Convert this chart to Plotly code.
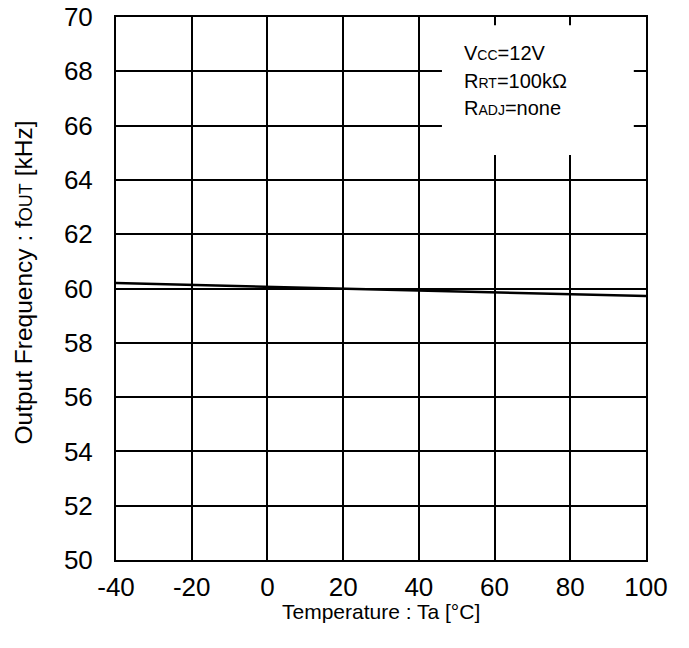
import plotly.graph_objects as go

temperature = [-40, -20, 0, 20, 40, 60, 80, 100]
frequency_khz = [60.20, 60.13, 60.06, 60.00, 59.93, 59.86, 59.79, 59.72]

x_ticks = [-40, -20, 0, 20, 40, 60, 80, 100]
y_ticks = [50, 52, 54, 56, 58, 60, 62, 64, 66, 68, 70]

conditions = [
    'V<span style="font-size:14px">CC</span>=12V',
    'R<span style="font-size:14px">RT</span>=100kΩ',
    'R<span style="font-size:14px">ADJ</span>=none',
]

x_title = "Temperature : Ta [°C]"
y_title = 'Output Frequency : f<span style="font-size:18px">OUT</span> [kHz]'

FONT = "Liberation Sans, Arial, sans-serif"

fig = go.Figure()
fig.add_trace(go.Scatter(
    x=temperature, y=frequency_khz, mode="lines",
    line=dict(color="black", width=2.5), showlegend=False,
))

fig.update_layout(
    width=689, height=648,
    margin=dict(l=116, r=43, t=17, b=88, autoexpand=False),
    paper_bgcolor="white", plot_bgcolor="white",
    font=dict(family=FONT, color="black"),
)
fig.update_xaxes(
    range=[-40, 100], tickvals=x_ticks, ticktext=[str(v) for v in x_ticks],
    showgrid=True, gridcolor="black", gridwidth=2,
    showline=True, linecolor="black", linewidth=2, mirror=True,
    zeroline=False, ticks="", tickfont=dict(size=26, family=FONT),
    ticklabelstandoff=3, automargin=False, ticklabeloverflow="allow",
)
fig.update_yaxes(
    range=[50, 70], tickvals=y_ticks, ticktext=[str(v) for v in y_ticks],
    showgrid=True, gridcolor="black", gridwidth=2,
    showline=True, linecolor="black", linewidth=2, mirror=True,
    zeroline=False, ticks="", tickfont=dict(size=26, family=FONT),
    ticklabelstandoff=16, automargin=False, ticklabeloverflow="allow",
)

fig.add_annotation(text=x_title, xref="paper", yref="paper", x=0.5, y=-0.094,
                   xanchor="center", yanchor="middle", showarrow=False,
                   font=dict(size=21, family=FONT, color="black"))
fig.add_annotation(text=y_title, xref="paper", yref="paper", x=-0.1736, y=0.511,
                   xanchor="center", yanchor="middle", showarrow=False, textangle=-90,
                   font=dict(size=24.5, family=FONT, color="black"))

fig.add_shape(type="rect", xref="paper", yref="paper",
              x0=0.615, x1=0.977, y0=0.746, y1=0.985,
              fillcolor="white", line=dict(width=0), layer="above")

line_y = [0.933, 0.883, 0.833]
for txt, yy in zip(conditions, line_y):
    fig.add_annotation(text=txt, xref="paper", yref="paper", x=0.653, y=yy,
                       xanchor="left", yanchor="middle", showarrow=False,
                       font=dict(size=20, family=FONT, color="black"))

fig.write_html("out.html", config={"displayModeBar": False},
               post_script="document.body.style.margin='0';")
